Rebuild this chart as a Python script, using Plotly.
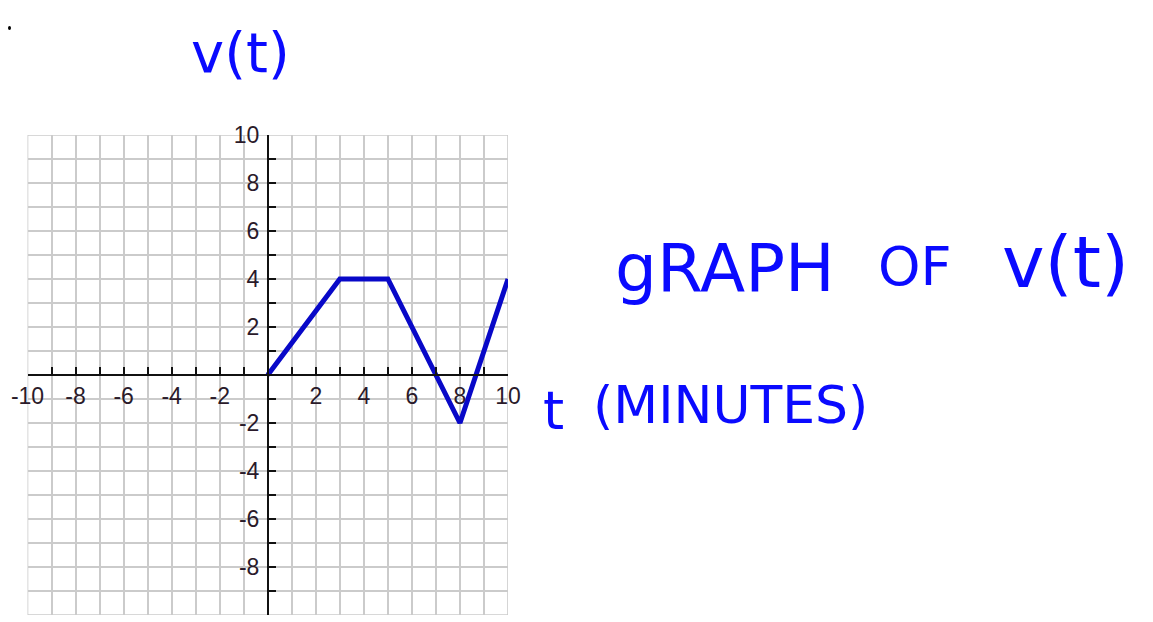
import plotly.graph_objects as go

# velocity data
t_minutes = [0, 3, 5, 8, 10]
velocity = [0, 4, 4, -2, 4]

major_ticks = [-10, -8, -6, -4, -2, 2, 4, 6, 8, 10]
major_labels = ['-10', '-8', '-6', '-4', '-2', '2', '4', '6', '8', '10']
minor_ticks = list(range(-10, 11))

# the page has an 8px body margin, so the figure is drawn 8px smaller
OFF = 8
W, H = 1153 - OFF, 622 - OFF
# plot box in page pixels (reference)
left, right, top, bottom = 27.5 - OFF, 508 - OFF, 135 - OFF, 615 - OFF
x0_px, y0_px = 268 - OFF, 375 - OFF


def px(x):
    return (x - OFF) / W


def py(y):
    return 1 - (y - OFF) / H


fig = go.Figure()

fig.add_trace(go.Scatter(
    x=t_minutes,
    y=velocity,
    mode='lines',
    line=dict(color='#0808c8', width=5),
    hoverinfo='skip'
))

grid = '#cbcbcb'
axis_common = dict(
    range=[-10, 10],
    tickvals=major_ticks,
    ticktext=major_labels,
    ticks='inside',
    ticklen=7,
    tickwidth=1.5,
    tickcolor='#111',
    showline=True,
    linecolor='#111',
    linewidth=2,
    showgrid=True,
    gridcolor=grid,
    gridwidth=1.6,
    zeroline=False,
    anchor='free',
    fixedrange=True,
    automargin=False,
    tickfont=dict(family='Liberation Sans', size=23, color='#2a1a2a'),
    minor=dict(tickvals=minor_ticks, ticks='inside', ticklen=7, tickwidth=1.5,
               tickcolor='#111', showgrid=True, gridcolor=grid, gridwidth=1.6),
)

fig.update_layout(
    width=W, height=H,
    margin=dict(t=0, l=0, r=0, b=0),
    paper_bgcolor='white',
    plot_bgcolor='white',
    showlegend=False,
    xaxis=dict(axis_common, domain=[left / W, right / W],
               position=(H - y0_px) / H, ticklabelstandoff=0),
    yaxis=dict(axis_common, domain=[(H - bottom) / H, (H - top) / H],
               position=x0_px / W, ticklabelstandoff=3),
)

# outer border of the grid
fig.add_shape(type='rect', xref='x', yref='y', x0=-10, y0=-10, x1=10, y1=10,
              line=dict(color=grid, width=1.6), layer='below')

hand = dict(family='DejaVu Sans', color='#0a0aff')
notes = [
    ('v(t)', 240, 52, 56),
    ('gRAPH', 725, 268, 66),
    ('OF', 915, 266, 54),
    ('v(t)', 1065, 262, 72),
    ('t', 553, 410, 54),
    ('(MINUTES)', 730, 405, 52),
]
for text, x, y, size in notes:
    fig.add_annotation(x=px(x), y=py(y), xref='paper', yref='paper',
                       xanchor='center', yanchor='middle',
                       text=text, showarrow=False, font=dict(hand, size=size))

# small stray dot at the top left
fig.add_shape(type='circle', xref='paper', yref='paper',
              x0=0, x1=3 / W, y0=py(30), y1=py(26),
              fillcolor='black', line=dict(width=0))

fig.write_html("out.html")
